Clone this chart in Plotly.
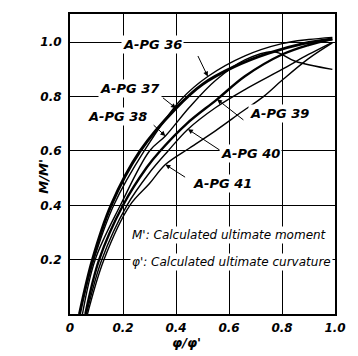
import plotly.graph_objects as go

# ---- data ----
tick_vals = [0, 0.2, 0.4, 0.6, 0.8, 1.0]
x_tick_text = ["0", "0.2", "0.4", "0.6", "0.8", "1.0"]
y_tick_vals = [0.2, 0.4, 0.6, 0.8, 1.0]
y_tick_text = ["0.2", "0.4", "0.6", "0.8", "1.0"]

pg36_x = [0.035, 0.09, 0.165, 0.28, 0.42, 0.52, 0.66, 0.80, 0.90, 0.99]
pg36_y = [0.0, 0.2, 0.4, 0.6, 0.79, 0.874, 0.95, 0.995, 1.01, 1.018]

pg37_x = [0.036, 0.085, 0.155, 0.265, 0.40, 0.50, 0.62, 0.75, 0.88, 0.99]
pg37_y = [0.0, 0.2, 0.4, 0.6, 0.757, 0.845, 0.91, 0.96, 0.995, 1.012]

pg38_x = [0.047, 0.095, 0.19, 0.30, 0.36, 0.45, 0.55, 0.66, 0.77, 0.85, 0.99]
pg38_y = [0.0, 0.2, 0.4, 0.6, 0.655, 0.76, 0.86, 0.935, 0.965, 0.93, 0.90]

pg39_x = [0.058, 0.11, 0.20, 0.29, 0.34, 0.44, 0.555, 0.66, 0.80, 0.90, 0.99]
pg39_y = [0.0, 0.2, 0.4, 0.54, 0.60, 0.70, 0.79, 0.875, 0.955, 0.99, 1.012]

pg40_x = [0.062, 0.12, 0.215, 0.30, 0.37, 0.445, 0.55, 0.66, 0.80, 0.90, 0.99]
pg40_y = [0.0, 0.2, 0.4, 0.52, 0.60, 0.68, 0.76, 0.826, 0.90, 0.955, 1.0]

pg41_x = [0.066, 0.128, 0.226, 0.30, 0.36, 0.45, 0.55, 0.65, 0.73, 0.80, 0.90, 0.99]
pg41_y = [0.0, 0.2, 0.4, 0.48, 0.55, 0.61, 0.675, 0.745, 0.80, 0.86, 0.94, 0.998]

specimens = ["A-PG 36", "A-PG 37", "A-PG 38", "A-PG 39", "A-PG 40", "A-PG 41"]
curves_x = [pg36_x, pg37_x, pg38_x, pg39_x, pg40_x, pg41_x]
curves_y = [pg36_y, pg37_y, pg38_y, pg39_y, pg40_y, pg41_y]
line_widths = [1.4, 3.0, 1.4, 2.4, 1.4, 1.4]
# index of the curve point the leader arrow points to
arrow_idx = [5, 4, 4, 6, 5, 4]
# label centre positions (data coords)
label_pos = [(0.31, 0.99), (0.226, 0.83), (0.18, 0.728), (0.79, 0.739), (0.68, 0.59), (0.577, 0.48)]
# leader start points (data coords)
leader_start = [(0.48, 0.955), (0.345, 0.80), (0.31, 0.70), (0.66, 0.71), (0.57, 0.60), (0.44, 0.50)]

fig = go.Figure()
for name, xs, ys, w in zip(specimens, curves_x, curves_y, line_widths):
    fig.add_trace(go.Scatter(x=xs, y=ys, mode="lines", name=name,
                             line=dict(color="black", width=w, shape="spline", smoothing=1.0),
                             showlegend=False, hoverinfo="skip"))

lab_font = dict(family="DejaVu Sans", size=13, color="black", style="italic", weight="bold")
for name, xs, ys, idx, (lx, ly), (sx, sy) in zip(specimens, curves_x, curves_y, arrow_idx, label_pos, leader_start):
    fig.add_annotation(x=lx, y=ly, xref="x", yref="y", text=name, showarrow=False,
                       font=lab_font, bgcolor="white", borderpad=1)
    fig.add_annotation(x=xs[idx], y=ys[idx], xref="x", yref="y", ax=sx, ay=sy,
                       axref="x", ayref="y", text="", showarrow=True,
                       arrowhead=2, arrowsize=1, arrowwidth=1, arrowcolor="black")

note_font = dict(family="DejaVu Sans", size=12, color="black", style="italic")
fig.add_annotation(x=0.225, y=0.292, xref="x", yref="y", xanchor="left",
                   text="M': Calculated ultimate moment", showarrow=False, font=note_font,
                   bgcolor="white")
fig.add_annotation(x=0.225, y=0.19, xref="x", yref="y", xanchor="left",
                   text="φ': Calculated ultimate curvature", showarrow=False, font=note_font,
                   bgcolor="white")

title_font = dict(family="DejaVu Sans", size=13, color="black", style="italic", weight="bold")
fig.add_annotation(x=-0.139, y=0.46, xref="paper", yref="paper", text="M/M'", textangle=-90,
                   showarrow=False, font=title_font)
fig.add_annotation(x=0.438, y=-0.125, xref="paper", yref="paper", text="φ/φ'",
                   showarrow=False, font=title_font)

tick_font = dict(family="DejaVu Sans", size=12, color="black", style="italic", weight="bold")
fig.update_xaxes(range=[0, 1.0], tickvals=tick_vals, ticktext=x_tick_text, tickfont=tick_font,
                 showgrid=True, gridcolor="black", gridwidth=1, showline=True, linecolor="black",
                 linewidth=2, mirror=True, ticks="", zeroline=False, ticklabelstandoff=2)
fig.update_yaxes(range=[0, 1.104], tickvals=y_tick_vals, ticktext=y_tick_text, tickfont=tick_font,
                 showgrid=True, gridcolor="black", gridwidth=1, showline=True, linecolor="black",
                 linewidth=2, mirror=True, ticks="", zeroline=False, ticklabelstandoff=4)
fig.update_layout(width=358, height=356, margin=dict(l=70, r=14, t=12, b=42),
                  plot_bgcolor="white", paper_bgcolor="white")
fig.write_html("out.html")
